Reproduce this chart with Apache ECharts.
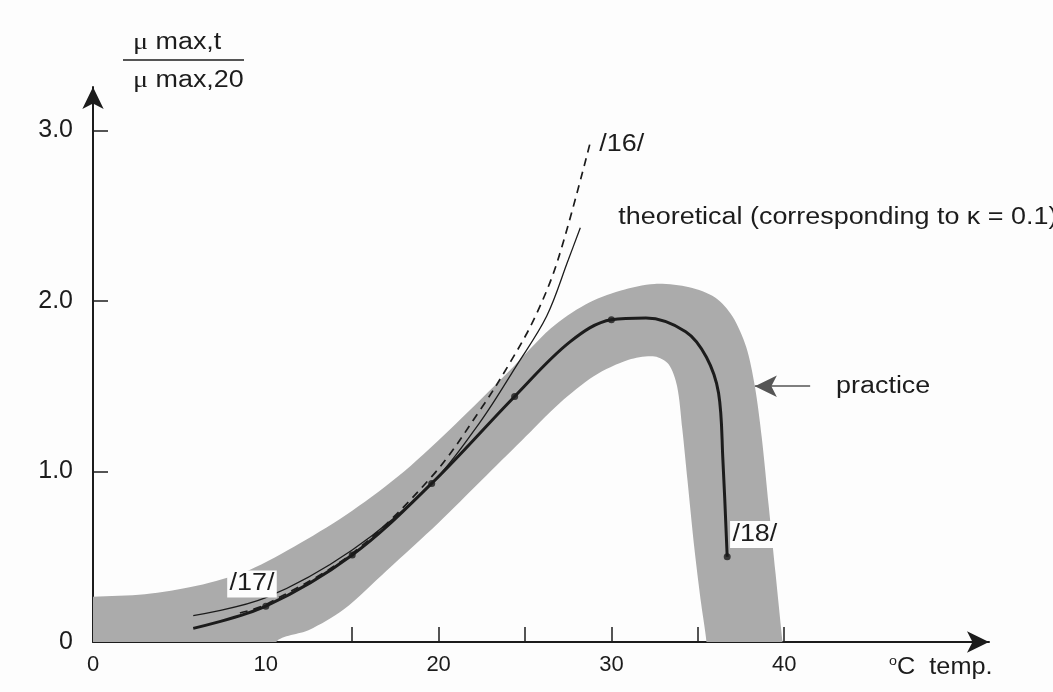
<!DOCTYPE html>
<html>
<head>
<meta charset="utf-8">
<script src="https://cdn.jsdelivr.net/npm/echarts@6/dist/echarts.min.js"></script>
<style>
  html, body { margin: 0; padding: 0; background: #fdfdfd; }
  #chart { width: 1053px; height: 692px; }
</style>
</head>
<body>
<div id="chart"></div>
<script>
// growth rate ratio vs temperature
const practice = [[5.8,0.08],[10,0.21],[15,0.51],[19.6,0.93],[24.4,1.44],[27.6,1.76],[30,1.89],[32,1.9],[34.3,1.82],[35.5,1.67],[36.2,1.46],[36.45,1.07],[36.7,0.5]];
const practiceDots = [[10,0.21],[15,0.51],[19.6,0.93],[24.4,1.44],[30,1.89],[36.7,0.5]];
const theoretical = [[5.8,0.155],[10,0.26],[15,0.54],[19.6,0.93],[22.4,1.29],[24.5,1.62],[26.25,1.91],[27.5,2.24],[28.2,2.43]];
const ref16 = [[8.5,0.17],[10,0.22],[15,0.52],[19.6,0.97],[22.4,1.36],[24.2,1.65],[25.6,1.91],[26.9,2.24],[28.75,2.92]];

// grey "practice" band outline (outer edge, then inner edge)
const bandUpper = [[-1,0.26],[0,0.265],[3,0.28],[6,0.33],[9,0.42],[12,0.58],[15,0.77],[18,1.0],[21,1.28],[24,1.58],[26.5,1.84],[28.5,1.98],[30.5,2.06],[32.5,2.1],[34.5,2.08],[36,2.02],[37,1.91],[37.8,1.73],[38.3,1.5],[38.7,1.2],[39.1,0.8],[39.5,0.4],[39.9,0],[40.1,-0.2]];
const bandLower = [[-1,-0.2],[10.4,-0.2],[10.6,0],[12.5,0.07],[14.5,0.19],[17,0.42],[20,0.7],[22.5,0.95],[24.8,1.18],[27,1.4],[29,1.56],[31,1.655],[32.5,1.675],[33.3,1.63],[33.8,1.5],[34.1,1.25],[34.4,0.95],[34.8,0.55],[35.2,0.22],[35.5,0],[35.6,-0.2]];

const xTicks = [10,15,20,25,30,35,40];
const xLabels = [0,10,20,30,40];
const yTicks = [1,2,3];
const yLabels = [0,1,2,3];

const font = '"Liberation Sans", Arial, Helvetica, sans-serif';
const ink = '#1c1c1c';
const stretch = 1.17; // the scanned lettering is a bit wide

const chart = echarts.init(document.getElementById('chart'));

chart.setOption({
  backgroundColor: '#fdfdfd',
  animation: false,
  grid: { left: 93, right: 64, top: 87, bottom: 50 },
  xAxis: {
    type: 'value', min: 0, max: 51.85,
    axisLine: { show: true, symbol: ['none', 'arrow'], symbolSize: [16, 22], lineStyle: { color: ink, width: 2 } },
    axisTick: { show: true, inside: true, length: 15, customValues: xTicks, lineStyle: { color: ink, width: 1.5 } },
    axisLabel: { customValues: xLabels, margin: 12, fontSize: 22, color: ink, fontFamily: font },
    splitLine: { show: false }
  },
  yAxis: {
    type: 'value', min: 0, max: 3.255,
    axisLine: { show: true, symbol: ['none', 'arrow'], symbolSize: [16, 22], lineStyle: { color: ink, width: 2 } },
    axisTick: { show: true, inside: true, length: 15, customValues: yTicks, lineStyle: { color: ink, width: 1.5 } },
    axisLabel: {
      customValues: yLabels, margin: 20, fontSize: 25, color: ink, fontFamily: font,
      formatter: v => v === 0 ? '0' : v.toFixed(1)
    },
    splitLine: { show: false }
  },
  series: [
    {
      type: 'custom',
      name: 'band',
      clip: true,
      z: 1,
      data: [[0, 0]],
      renderItem: function (params, api) {
        const pts = bandUpper.concat(bandLower.slice().reverse()).map(p => api.coord(p));
        return { type: 'polygon', shape: { points: pts, smooth: 0.3 }, style: { fill: '#ababab' } };
      }
    },
    {
      type: 'line', name: 'practice', data: practice, smooth: 0.35, showSymbol: false, z: 3,
      lineStyle: { color: ink, width: 3 }
    },
    {
      type: 'scatter', name: 'points', data: practiceDots, symbolSize: 7, z: 4,
      itemStyle: { color: ink }
    },
    {
      type: 'line', name: 'theoretical', data: theoretical, smooth: 0.35, showSymbol: false, z: 3,
      lineStyle: { color: ink, width: 1.3 }
    },
    {
      type: 'line', name: '/16/', data: ref16, smooth: 0.35, showSymbol: false, z: 3,
      lineStyle: { color: ink, width: 1.7, type: [8, 6] }
    },
    {
      type: 'line', name: 'arrow', data: [], z: 5,
      markLine: {
        silent: true, symbol: ['arrow', 'none'], symbolSize: [16, 22],
        lineStyle: { color: '#555', width: 1.5, type: 'solid' },
        label: { show: false },
        data: [[{ coord: [38.3, 1.5] }, { coord: [41.5, 1.5] }]]
      }
    }
  ]
});

// annotations anchored in data space
const px = p => chart.convertToPixel({ gridIndex: 0 }, p);
const txt = (p, text, extra) => {
  const q = px(p);
  return {
    type: 'text', x: q[0], y: q[1], z: 10, scaleX: stretch,
    style: Object.assign({ text: text, font: '23px ' + font, fill: ink, verticalAlign: 'middle' }, extra || {})
  };
};
const muRich = { m: { fontFamily: '"Liberation Serif", serif', fontSize: 24 } };

chart.setOption({
  graphic: [
    txt([29.3, 2.915], '/16/'),
    txt([30.4, 2.49], 'theoretical (corresponding to κ = 0.1)'),
    txt([43.0, 1.5], 'practice'),
    txt([9.2, 0.34], '/17/', { align: 'center', backgroundColor: '#fdfdfd', padding: [2, 2] }),
    txt([38.3, 0.63], '/18/', { align: 'center', backgroundColor: '#fdfdfd', padding: [2, 2] }),
    // y axis title as a fraction
    {
      type: 'text', x: 133, y: 43, z: 10, scaleX: stretch,
      style: { text: '{m|μ} max,t', verticalAlign: 'middle', fill: ink, font: '23px ' + font, rich: muRich }
    },
    { type: 'line', z: 10, shape: { x1: 123, y1: 60, x2: 244, y2: 60 }, style: { stroke: ink, lineWidth: 1.5 } },
    {
      type: 'text', x: 133, y: 81, z: 10, scaleX: stretch,
      style: { text: '{m|μ} max,20', verticalAlign: 'middle', fill: ink, font: '23px ' + font, rich: muRich }
    },
    // x axis title
    {
      type: 'text', x: 889, y: 668, z: 10, scaleX: 1.1,
      style: {
        text: '{s|o}{t|C  temp.}', verticalAlign: 'middle', fill: ink, font: '23px ' + font,
        rich: {
          s: { fontSize: 13, verticalAlign: 'top', padding: [0, 0, 14, 0] },
          t: { fontSize: 23 }
        }
      }
    }
  ]
});
</script>
</body>
</html>
